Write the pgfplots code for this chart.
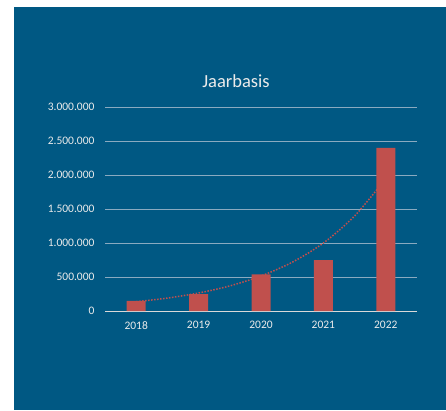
\documentclass[border=0pt]{standalone}
\usepackage{fontspec}
\setmainfont{Carlito}
\usepackage{pgfplots}
\pgfplotsset{compat=1.18}
\definecolor{bg}{RGB}{0,88,131}
\definecolor{barred}{RGB}{192,80,77}
\definecolor{gridc}{RGB}{138,170,192}
\definecolor{axc}{RGB}{217,217,217}
\definecolor{txt}{RGB}{235,235,235}
\begin{document}
\begin{tikzpicture}[x=1pt,y=1pt]
\fill[white] (0,0) rectangle (446,410);
\fill[bg] (14,0) rectangle (446,403);
\node[text=txt, font=\fontsize{18.5}{22}\selectfont] at (236,329) {Jaarbasis};
\begin{axis}[
  at={(105pt,99pt)}, anchor=south west,
  scale only axis, width=312pt, height=204pt,
  xmin=-0.5, xmax=4.5, ymin=0, ymax=3000000,
  xtick={0,1,2,3,4}, xticklabels={2018,2019,2020,2021,2022},
  ytick={0,500000,1000000,1500000,2000000,2500000,3000000},
  scaled y ticks=false,
  /pgf/number format/assume math mode=true,
  /pgf/number format/fixed,
  /pgf/number format/1000 sep={.},
  tick label style={font=\fontsize{11.5}{13}\selectfont, text=txt},
  yticklabel style={xshift=-7pt},
  xticklabel style={yshift=-7pt},
  major tick length=0pt,
  tick style={draw=none},
  axis x line*=bottom, axis y line*=left,
  x axis line style={draw=axc, line width=1pt, -},
  y axis line style={draw=none},
  ymajorgrids,
  grid style={draw=gridc, line width=1pt},
]
\addplot[barred, line width=1.5pt, dash pattern=on 1.5pt off 1.5pt, smooth] coordinates {
 (0,136800) (0.5,190000) (1,265000) (1.5,369000) (2,515000) (2.5,717000) (3,1000000) (3.5,1398000) (4,1948000)};
\addplot[ybar, bar width=19pt, fill=barred, draw=none] coordinates {
 (0,150000) (1,250000) (2,540000) (3,750000) (4,2400000)};
\end{axis}
\end{tikzpicture}
\end{document}
